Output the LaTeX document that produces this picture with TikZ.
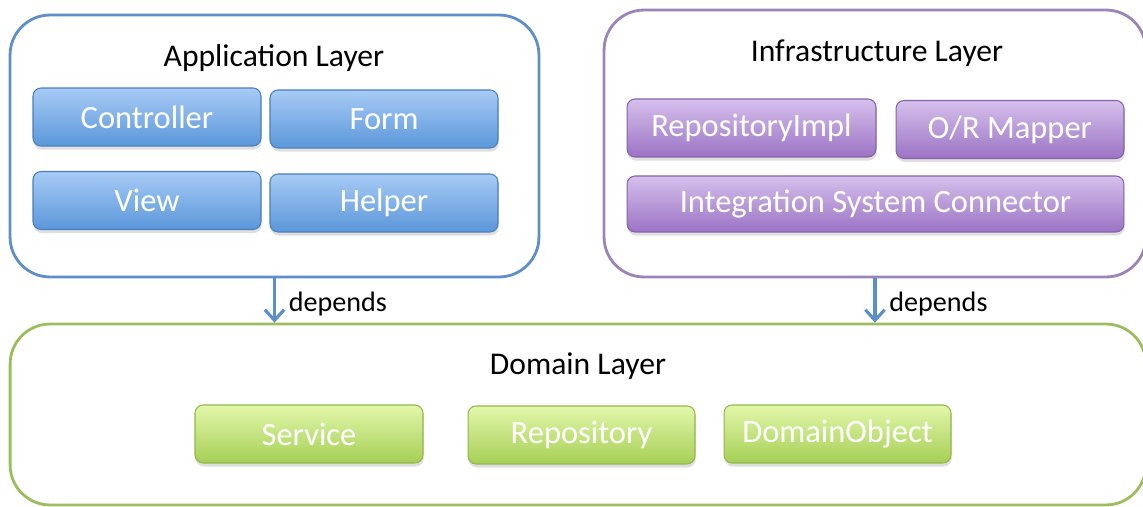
\documentclass[tikz,border=0pt]{standalone}
\usepackage{fontspec}
\setmainfont{Carlito}
\usepackage{tikz}
\usetikzlibrary{positioning,shadows,arrows.meta}
\definecolor{bluetop}{HTML}{A7CBF5}
\definecolor{bluebot}{HTML}{5B97DA}
\definecolor{blueline}{HTML}{4A7EBB}
\definecolor{purptop}{HTML}{D6C0EC}
\definecolor{purpbot}{HTML}{9B73C4}
\definecolor{purpline}{HTML}{8462AC}
\definecolor{greentop}{HTML}{E2F7AA}
\definecolor{greenbot}{HTML}{A6CF56}
\definecolor{greenline}{HTML}{93B74C}
\definecolor{applrand}{HTML}{5E8FC8}
\definecolor{infrarand}{HTML}{9A84BA}
\definecolor{domrand}{HTML}{9CBD5D}
\definecolor{pfeil}{HTML}{5B8FC7}

\begin{document}
\begin{tikzpicture}[x=0.02cm, y=-0.02cm]

\tikzset{
	schicht/.style={rounded corners=0.8cm, line width=1.6pt, fill=white, inner sep=0pt},
	kasten/.style={rounded corners=0.16cm, line width=0.6pt, inner sep=0pt,
		minimum height=1.16cm, text=white, font=\fontsize{18.5}{20}\selectfont,
		drop shadow={opacity=0.25, shadow xshift=0.4pt, shadow yshift=-2pt}},
	blaukasten/.style={kasten, draw=blueline, top color=bluetop, bottom color=bluebot},
	lilakasten/.style={kasten, draw=purpline, top color=purptop, bottom color=purpbot},
	gruenkasten/.style={kasten, draw=greenline, top color=greentop, bottom color=greenbot},
	titel/.style={font=\fontsize{18}{20}\selectfont},
	>={Straight Barb[length=6pt,width=11pt]}
}

\useasboundingbox (0,0) rectangle (1143,507);

% Schichten
\node[schicht, draw=applrand, minimum width=10.58cm, minimum height=5.24cm] (appl) at (274.5,146) {};
\node[schicht, draw=infrarand, minimum width=10.84cm, minimum height=5.34cm] (infra) at (875,143.5) {};
\node[schicht, draw=domrand, minimum width=22.72cm, minimum height=3.62cm] (domain) at (578,414.5) {};

% Application Layer
\node[titel] (appltitel) at (274,58) {Application Layer};
\node[blaukasten, minimum width=4.56cm] (ctrl) at (147,117) {Controller};
\node[blaukasten, minimum width=4.56cm] (form) at (384,119) {Form};
\node[blaukasten, minimum width=4.56cm] (view) at (147,200.5) {View};
\node[blaukasten, minimum width=4.56cm] (helper) at (384,203) {Helper};

% Infrastructure Layer
\node[titel] (infratitel) at (877,53) {Infrastructure Layer};
\node[lilakasten, minimum width=4.98cm] (repimpl) at (751.5,128) {RepositoryImpl};
\node[lilakasten, minimum width=4.56cm] (ormap) at (1010,129.5) {O/R Mapper};
\node[lilakasten, minimum width=9.94cm, minimum height=1.12cm] (isc) at (875.5,204) {Integration System Connector};

% Domain Layer
\node[titel] (domtitel) at (578,366) {Domain Layer};
\node[gruenkasten, minimum width=4.56cm] (service) at (309,434) {Service};
\node[gruenkasten, minimum width=4.54cm] (repo) at (581.5,435) {Repository};
\node[gruenkasten, minimum width=4.54cm] (dobj) at (837.5,434) {DomainObject};

% Abhaengigkeiten
\draw[->, pfeil, line width=1.8pt] (appl.south) -- (appl.south |- domain.north)
	node[midway, right=4pt, yshift=-2pt, text=black, font=\fontsize{16}{18}\selectfont] {depends};
\draw[->, pfeil, line width=1.8pt] (infra.south) -- (infra.south |- domain.north)
	node[midway, right=4pt, yshift=-2pt, text=black, font=\fontsize{16}{18}\selectfont] {depends};

\end{tikzpicture}
\end{document}
